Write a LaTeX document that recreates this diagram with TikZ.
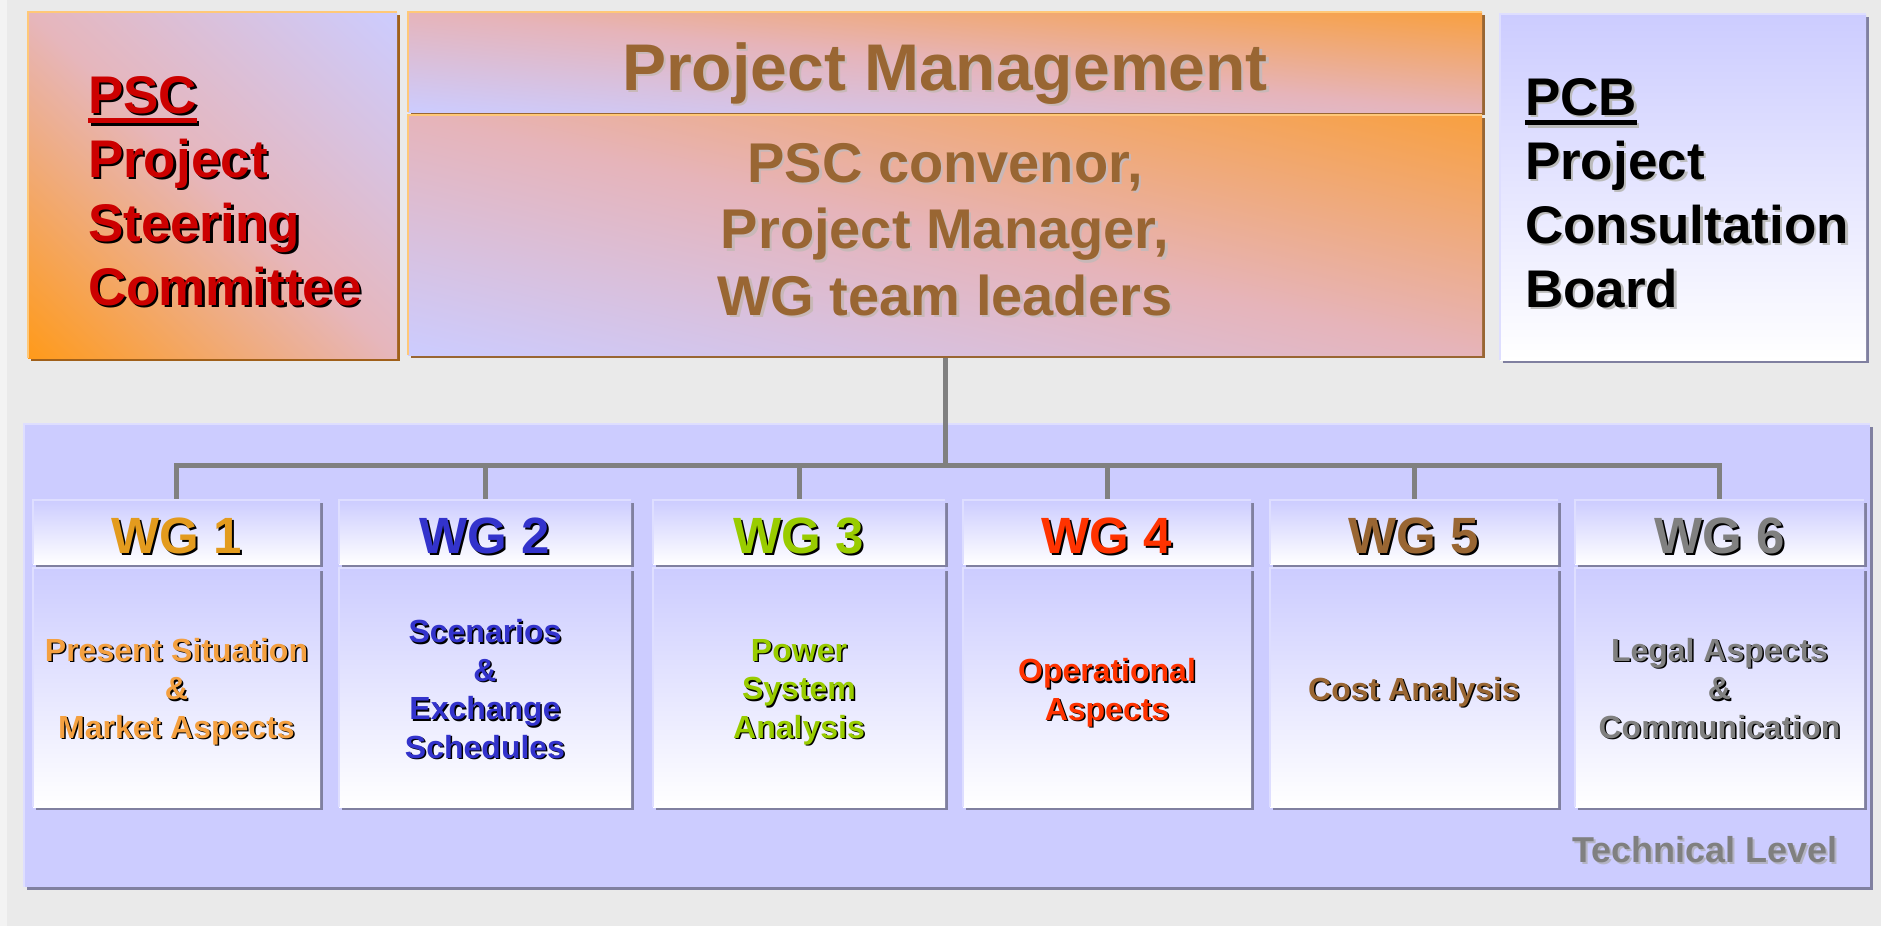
\documentclass[tikz,border=0pt]{standalone}
\usepackage{fontspec}
\setmainfont{Liberation Sans}
\usetikzlibrary{shadows,calc}
\pgfdeclarelayer{bg}
\pgfdeclarelayer{back}
\pgfsetlayers{bg,back,main}
\definecolor{bgc}{HTML}{EAEAEA}
\definecolor{bgedge}{HTML}{F3F3F3}
\definecolor{lav}{HTML}{CCCCFF}
\definecolor{pmbrown}{HTML}{996633}
\definecolor{pscshadow}{HTML}{A0601A}
\definecolor{hlorange}{HTML}{FFC878}
\definecolor{blshadow}{HTML}{8080A0}
\definecolor{hllav}{HTML}{DEDEFF}
\definecolor{conngray}{HTML}{808080}
\definecolor{pscred}{HTML}{CC0000}
\definecolor{pmshadow}{HTML}{C8B8B8}
\definecolor{pcbshadow}{HTML}{BBBBBB}
\definecolor{techgray}{HTML}{808080}
\definecolor{techshadow}{HTML}{B4B4C4}
\definecolor{wgone}{HTML}{E39B1E}
\definecolor{wgonebody}{HTML}{F4A040}
\definecolor{wgtwo}{HTML}{3333CC}
\definecolor{wgthree}{HTML}{99CC00}
\definecolor{wgfour}{HTML}{FF3300}
\definecolor{wgfive}{HTML}{996633}
\definecolor{wgsix}{HTML}{808080}
% corner-to-corner gradients (the box covers the inner -25bp..25bp square)
% orange (bottom-left) -> pink -> lavender (top-right)
\pgfdeclarefunctionalshading{pscgrad}{\pgfpoint{-50bp}{-50bp}}{\pgfpoint{50bp}{50bp}}{}{
  add 50 add 100 div
  dup 0 lt {pop 0} if
  dup 1 gt {pop 1} if
  dup 0.5 lt {
    2 mul
    dup -0.098 mul 1 add exch
    dup 0.110 mul 0.604 add exch
    0.635 mul 0.102 add
  }{
    0.5 sub 2 mul
    dup -0.102 mul 0.902 add exch
    dup 0.086 mul 0.714 add exch
    0.263 mul 0.737 add
  } ifelse
}
% orange (top-right) -> pink -> lavender (bottom-left)
\pgfdeclarefunctionalshading{pmgrad}{\pgfpoint{-50bp}{-50bp}}{\pgfpoint{50bp}{50bp}}{}{
  add 50 add 100 div 1 exch sub
  dup 0 lt {pop 0} if
  dup 1 gt {pop 1} if
  dup 0.5 lt {
    2 mul
    dup -0.071 mul 0.973 add exch
    dup 0.079 mul 0.627 add exch
    0.478 mul 0.251 add
  }{
    0.5 sub 2 mul
    dup -0.102 mul 0.902 add exch
    dup 0.094 mul 0.706 add exch
    0.271 mul 0.729 add
  } ifelse
}
% shadowed text: offset, shadow colour, text colour, text
\newcommand\tsh[4]{\leavevmode\makebox[0pt][l]{\kern#1\raisebox{-#1}[0pt][0pt]{\textcolor{#2}{#4}}}\textcolor{#3}{#4}}
\newcommand\ulw[1]{\setbox0\hbox{#1}\rlap{\rule[-10pt]{\wd0}{5pt}}\box0}
\newcommand\wl[2]{\tsh{1.5pt}{black}{#1}{#2}}
\begin{document}
\begin{tikzpicture}[x=1pt,y=-1pt,
  box/.style={inner sep=0pt, outer sep=0pt, anchor=north west},
  txt/.style={inner sep=0pt, outer sep=0pt},
  conn/.style={draw=conngray, line width=5pt},
  hlo/.style={draw=hlorange, line width=2pt},
  hll/.style={draw=hllav, line width=2pt},
  brsh/.style={drop shadow={shadow xshift=3pt, shadow yshift=-3pt, fill=pscshadow, opacity=1}},
  pmsh/.style={drop shadow={shadow xshift=3pt, shadow yshift=-3pt, fill=pmbrown, opacity=1}},
  blsh/.style={drop shadow={shadow xshift=3pt, shadow yshift=-3pt, fill=blshadow, opacity=1}},
  wgbox/.style={box, blsh, top color=lav, bottom color=white, minimum width=#1},
  wghead/.style={wgbox=#1, minimum height=64pt},
  wgbody/.style={wgbox=#1, minimum height=239pt},
  bigfont/.style={font=\fontsize{53}{64}\selectfont\bfseries},
  wgtitle/.style={txt, anchor=base, font=\fontsize{51}{60}\selectfont\bfseries},
  wgtext/.style={txt, anchor=base, align=center, font=\fontsize{32}{38.5}\selectfont\bfseries},
]
\useasboundingbox (0,0) rectangle (1881,926);
\begin{pgfonlayer}{bg}
  \fill[bgc] (0,0) rectangle (1881,926);
  \fill[bgedge] (0,0) rectangle (7,926);
  \node[box, blsh, fill=lav, minimum width=1846pt, minimum height=463pt] (tech) at (24,424) {};
  \draw[hll] (tech.south west) -- (tech.north west) -- (tech.north east);
\end{pgfonlayer}

% top row
\node[box, brsh, minimum width=369pt, minimum height=346pt, shade, shading=pscgrad] (psc) at (28,12) {};
\draw[hlo] (psc.south west) -- (psc.north west) -- (psc.north east);

\node[box, pmsh, minimum width=1074pt, minimum height=100pt, shade, shading=pmgrad] (pmt) at (408,12) {};
\draw[hlo] (pmt.south west) -- (pmt.north west) -- (pmt.north east);
\node[box, pmsh, minimum width=1074pt, minimum height=240pt, shade, shading=pmgrad] (pmb) at (408,115) {};
\draw[hlo] (pmb.south west) -- (pmb.north west) -- (pmb.north east);

\node[box, blsh, minimum width=366pt, minimum height=346pt, top color=lav, bottom color=white] (pcb) at (1500,14) {};
\draw[hll] (pcb.south west) -- (pcb.north west) -- (pcb.north east);

% working groups
\node[wghead=287pt] (wg1h) at (33,500) {};
\node[wgbody=287pt] (wg1b) at (33,568) {};
\node[wghead=292pt] (wg2h) at (339,500) {};
\node[wgbody=292pt] (wg2b) at (339,568) {};
\node[wghead=292pt] (wg3h) at (653,500) {};
\node[wgbody=292pt] (wg3b) at (653,568) {};
\node[wghead=288pt] (wg4h) at (963,500) {};
\node[wgbody=288pt] (wg4b) at (963,568) {};
\node[wghead=288pt] (wg5h) at (1270,500) {};
\node[wgbody=288pt] (wg5b) at (1270,568) {};
\node[wghead=289pt] (wg6h) at (1575,500) {};
\node[wgbody=289pt] (wg6b) at (1575,568) {};
\foreach \n in {wg1h,wg1b,wg2h,wg2b,wg3h,wg3b,wg4h,wg4b,wg5h,wg5b,wg6h,wg6b}{
  \draw[hll] (\n.south west) -- (\n.north west) -- (\n.north east);
}

% connectors
\begin{pgfonlayer}{back}
  \coordinate (bus) at (pmb.south |- 0,465);
  \draw[conn] (pmb.south) -- (bus);
  \draw[conn] (wg1h.north) -- (wg1h.north |- bus) -- (wg6h.north |- bus) -- (wg6h.north);
  \foreach \n in {wg2h,wg3h,wg4h,wg5h}{
    \draw[conn] (\n.north |- bus) -- (\n.north);
  }
\end{pgfonlayer}

% texts (base anchor = baseline of the last line)
\node[txt, bigfont, anchor=base west, align=left] (psctext) at (88,305)
  {\tsh{2.5pt}{black}{pscred}{\ulw{PSC}}\\
   \tsh{2.5pt}{black}{pscred}{Project}\\
   \tsh{2.5pt}{black}{pscred}{Steering}\\
   \tsh{2.5pt}{black}{pscred}{Committee}};

\node[txt, anchor=base, font=\fontsize{66}{78}\selectfont\bfseries] (pmtitle) at (pmt.center |- 0,90)
  {\tsh{2.5pt}{pmshadow}{pmbrown}{Project Management}};
\node[txt, anchor=base, align=center, font=\fontsize{56}{66.5}\selectfont\bfseries] (pmtext) at (pmb.center |- 0,315)
  {\tsh{2.5pt}{pmshadow}{pmbrown}{PSC convenor,}\\
   \tsh{2.5pt}{pmshadow}{pmbrown}{Project Manager,}\\
   \tsh{2.5pt}{pmshadow}{pmbrown}{WG team leaders}};

\node[txt, bigfont, anchor=base west, align=left] (pcbtext) at (1525,307)
  {\tsh{2.5pt}{pcbshadow}{black}{\ulw{PCB}}\\
   \tsh{2.5pt}{pcbshadow}{black}{Project}\\
   \tsh{2.5pt}{pcbshadow}{black}{Consultation}\\
   \tsh{2.5pt}{pcbshadow}{black}{Board}};

\node[wgtitle] (wg1t) at (wg1h.center |- 0,553) {\tsh{2pt}{black}{wgone}{WG 1}};
\node[wgtitle] (wg2t) at (wg2h.center |- 0,553) {\tsh{2pt}{black}{wgtwo}{WG 2}};
\node[wgtitle] (wg3t) at (wg3h.center |- 0,553) {\tsh{2pt}{black}{wgthree}{WG 3}};
\node[wgtitle] (wg4t) at (wg4h.center |- 0,553) {\tsh{2pt}{black}{wgfour}{WG 4}};
\node[wgtitle] (wg5t) at (wg5h.center |- 0,553) {\tsh{2pt}{black}{wgfive}{WG 5}};
\node[wgtitle] (wg6t) at (wg6h.center |- 0,553) {\tsh{2pt}{black}{wgsix}{WG 6}};

\node[wgtext] (wg1x) at (wg1b.center |- 0,738)
  {\wl{wgonebody}{Present Situation}\\ \wl{wgonebody}{\&}\\ \wl{wgonebody}{Market Aspects}};
\node[wgtext] (wg2x) at (wg2b.center |- 0,758)
  {\wl{wgtwo}{Scenarios}\\ \wl{wgtwo}{\&}\\ \wl{wgtwo}{Exchange}\\ \wl{wgtwo}{Schedules}};
\node[wgtext] (wg3x) at (wg3b.center |- 0,738)
  {\wl{wgthree}{Power}\\ \wl{wgthree}{System}\\ \wl{wgthree}{Analysis}};
\node[wgtext] (wg4x) at (wg4b.center |- 0,720)
  {\wl{wgfour}{Operational}\\ \wl{wgfour}{Aspects}};
\node[wgtext] (wg5x) at (wg5b.center |- 0,700)
  {\wl{wgfive}{Cost Analysis}};
\node[wgtext] (wg6x) at (wg6b.center |- 0,738)
  {\wl{wgsix}{Legal Aspects}\\ \wl{wgsix}{\&}\\ \wl{wgsix}{Communication}};

\node[txt, anchor=base east, font=\fontsize{36}{43}\selectfont\bfseries] (techtext) at (1838,862)
  {\tsh{2pt}{techshadow}{techgray}{Technical Level}};
\end{tikzpicture}
\end{document}
